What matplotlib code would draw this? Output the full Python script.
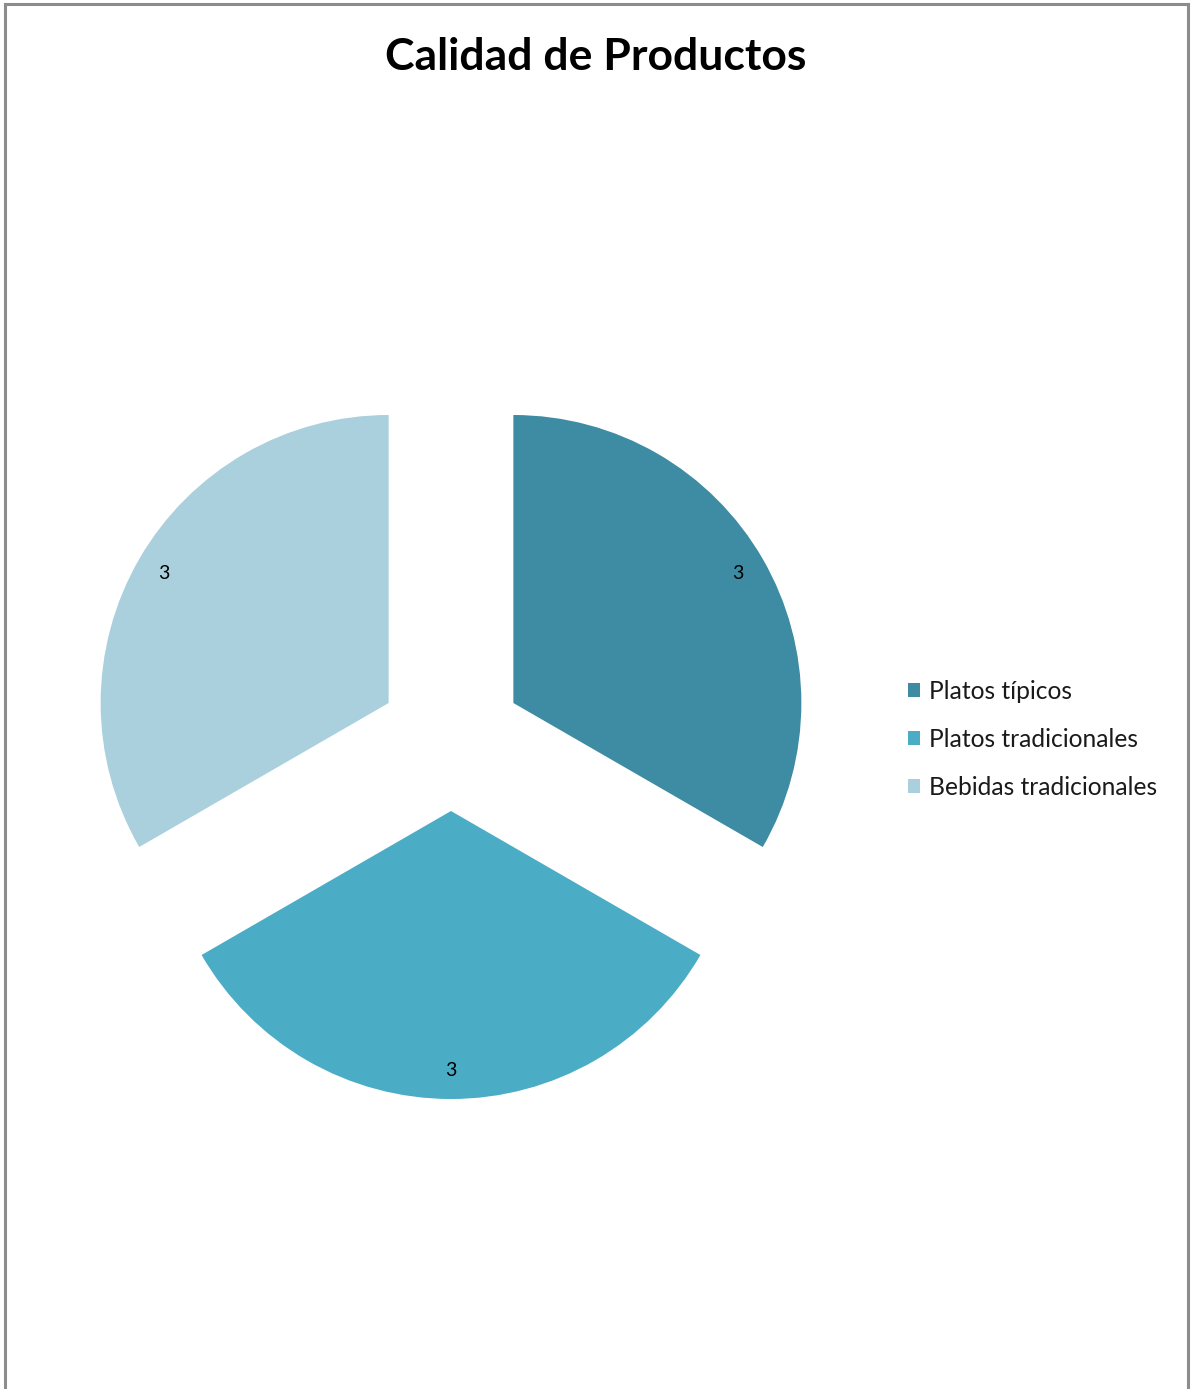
import matplotlib
matplotlib.use('Agg')
import matplotlib.pyplot as plt
from matplotlib.patches import Patch

categories = ['Platos típicos', 'Platos tradicionales', 'Bebidas tradicionales']
values = [3, 3, 3]
colors = ['#3D8CA3', '#4BACC6', '#AACFDD']

W, H = 1193, 1389
fig = plt.figure(figsize=(W / 100, H / 100), dpi=100)
plt.rcParams['font.family'] = ['Lato', 'DejaVu Sans']

# gray frame (no bottom edge visible)
border = '#8C8C8C'
fig.add_artist(plt.Line2D([5 / W, 5 / W], [0, 1 - 4 / H], color=border, lw=2.2, transform=fig.transFigure))
fig.add_artist(plt.Line2D([1187.5 / W, 1187.5 / W], [0, 1 - 4 / H], color=border, lw=2.2, transform=fig.transFigure))
fig.add_artist(plt.Line2D([5 / W, 1187.5 / W], [1 - 4 / H, 1 - 4 / H], color=border, lw=2.2, transform=fig.transFigure))

# pie axes: center at (451, 739) px, radius 288 px
R = 288
cx, cy = 451, 739
half = 420
ax = fig.add_axes([(cx - half) / W, (H - cy - half) / H, 2 * half / W, 2 * half / H])

wedges, texts, autotexts = ax.pie(values, colors=colors, startangle=90, counterclock=False,
                                  explode=[0.25, 0.25, 0.25],
                                  autopct=lambda p: '%d' % round(p * sum(values) / 100),
                                  pctdistance=0.9, wedgeprops=dict(linewidth=0),
                                  textprops=dict(fontsize=14, color='black'),
                                  frame=True)
ax.set_xlim(-half / R, half / R)
ax.set_ylim(-half / R, half / R)
ax.axis('off')

fig.text(596 / W, 1 - 57 / H, 'Calidad de Productos', ha='center', va='center',
         fontsize=32, fontweight='bold')

handles = [Patch(facecolor=c, edgecolor='none') for c in colors]
leg = fig.legend(handles, categories, loc='upper left',
                 bbox_to_anchor=(908 / W, 1 - 680 / H),
                 frameon=False, fontsize=17.7, handlelength=0.5, handleheight=0.5,
                 handletextpad=0.37, labelspacing=1.02, borderaxespad=0, borderpad=0)
for t in leg.get_texts():
    t.set_color('#1a1a1a')

plt.savefig('out.png', dpi=100)
